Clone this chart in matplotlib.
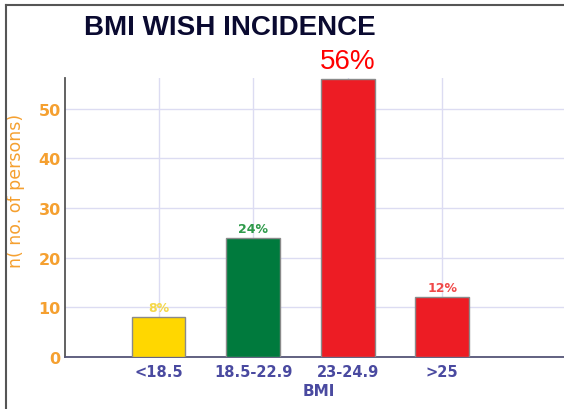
import matplotlib.pyplot as plt
from matplotlib.lines import Line2D

categories = ['<18.5', '18.5-22.9', '23-24.9', '>25']
persons = [8, 24, 56, 12]
pct_labels = ['8%', '24%', '56%', '12%']
bar_colors = ['#ffd700', '#007a3d', '#ed1c24', '#ed1c24']
label_colors = ['#f5d84a', '#2e9a4a', '#ff0000', '#f04848']
label_sizes = [9, 9, 20, 9]

fig = plt.figure(figsize=(5.64, 4.10), dpi=100)
ax = fig.add_axes([0.1152, 0.127, 0.90, 0.68])

x = range(len(categories))
ax.bar(x, persons, width=0.57, color=bar_colors, edgecolor='#8a8a8a', linewidth=1, zorder=3)

for i, v in enumerate(persons):
    big = label_sizes[i] > 10
    ax.text(i, v + (1.0 if big else 0.6), pct_labels[i], ha='center', va='bottom',
            color=label_colors[i], fontsize=label_sizes[i],
            fontweight='normal' if big else 'bold',
            family='Liberation Sans' if big else 'DejaVu Sans', clip_on=False)

ax.set_xlim(-0.99, 4.38)
ax.set_ylim(0, 56.2)
ax.set_yticks([0, 10, 20, 30, 40, 50])
ax.set_xticks(list(x))
ax.set_xticklabels(categories)
ax.tick_params(axis='x', colors='#4a4aa0', labelsize=10.5, length=0, pad=5)
ax.tick_params(axis='y', colors='#f5a030', labelsize=11.5, length=0, pad=3)
for lbl in ax.get_yticklabels() + ax.get_xticklabels():
    lbl.set_fontweight('bold')

ax.grid(True, color='#dcdcf2', linewidth=1, zorder=0)
ax.set_axisbelow(True)

ax.spines['top'].set_visible(False)
ax.spines['right'].set_visible(False)
ax.spines['left'].set_color('#555555')
ax.spines['left'].set_linewidth(1.3)
ax.spines['bottom'].set_color('#555577')
ax.spines['bottom'].set_linewidth(1.3)

ax.set_xlabel('BMI', color='#4a4aa0', fontsize=11, fontweight='bold', labelpad=3)
ax.set_ylabel('n( no. of persons)', color='#f5a030', fontsize=12.5)
ax.yaxis.set_label_coords(-0.078, 0.6)

fig.text(0.149, 0.932, 'BMI WISH INCIDENCE', color='#0a0a30', fontsize=20, fontweight='bold',
         family='Liberation Sans', va='center', ha='left')

# frame around the slide
fig.add_artist(Line2D([6 / 564, 6 / 564], [0, 1 - 6 / 410], color='#555555', linewidth=1.5))
fig.add_artist(Line2D([6 / 564, 1], [1 - 6 / 410, 1 - 6 / 410], color='#555555', linewidth=1.5))

fig.savefig('out.png', dpi=100)
